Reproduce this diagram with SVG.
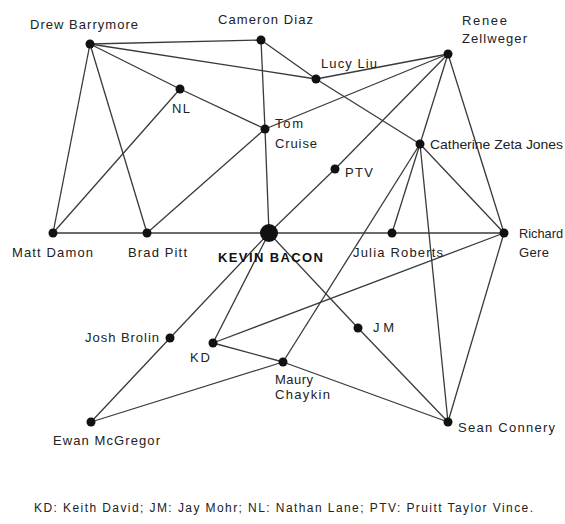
<svg xmlns="http://www.w3.org/2000/svg" width="565" height="524" viewBox="0 0 565 524">
<style>
.e{stroke:#3a3a3a;stroke-width:1.3;fill:none}
.d{fill:#111}
text{font-family:"Liberation Sans",Arial,sans-serif;font-size:13px;fill:#222}
.b{font-weight:bold;font-size:13px;fill:#111}
.c{font-size:12px}
</style>
<rect width="565" height="524" fill="#fff"/>
<g id="connectors">
<line class="e" x1="90" y1="44" x2="261" y2="40"/>
<line class="e" x1="90" y1="44" x2="316" y2="79"/>
<line class="e" x1="90" y1="44" x2="180" y2="89"/>
<line class="e" x1="180" y1="89" x2="265" y2="129"/>
<line class="e" x1="90" y1="44" x2="53" y2="233"/>
<line class="e" x1="90" y1="44" x2="147" y2="233"/>
<line class="e" x1="180" y1="89" x2="53" y2="233"/>
<line class="e" x1="261" y1="40" x2="265" y2="129"/>
<line class="e" x1="265" y1="129" x2="269" y2="233"/>
<line class="e" x1="261" y1="40" x2="316" y2="79"/>
<line class="e" x1="316" y1="79" x2="420" y2="144"/>
<line class="e" x1="316" y1="79" x2="448" y2="54"/>
<line class="e" x1="265" y1="129" x2="448" y2="54"/>
<line class="e" x1="265" y1="129" x2="147" y2="233"/>
<line class="e" x1="448" y1="54" x2="335" y2="169"/>
<line class="e" x1="335" y1="169" x2="269" y2="233"/>
<line class="e" x1="448" y1="54" x2="420" y2="144"/>
<line class="e" x1="448" y1="54" x2="504" y2="233"/>
<line class="e" x1="420" y1="144" x2="392" y2="233"/>
<line class="e" x1="420" y1="144" x2="504" y2="233"/>
<line class="e" x1="420" y1="144" x2="283" y2="362"/>
<line class="e" x1="420" y1="144" x2="448" y2="422"/>
<line class="e" x1="53" y1="233" x2="504" y2="233"/>
<line class="e" x1="504" y1="233" x2="213" y2="343"/>
<line class="e" x1="504" y1="233" x2="448" y2="422"/>
<line class="e" x1="269" y1="233" x2="358" y2="328"/>
<line class="e" x1="358" y1="328" x2="448" y2="422"/>
<line class="e" x1="269" y1="233" x2="170" y2="338"/>
<line class="e" x1="170" y1="338" x2="91" y2="422"/>
<line class="e" x1="269" y1="233" x2="213" y2="343"/>
<line class="e" x1="213" y1="343" x2="283" y2="362"/>
<line class="e" x1="283" y1="362" x2="448" y2="422"/>
<line class="e" x1="283" y1="362" x2="91" y2="422"/>
</g>
<g id="drew"><circle class="d" cx="90" cy="44" r="4.5"/><text x="30" y="29" textLength="108">Drew Barrymore</text></g>
<g id="cameron"><circle class="d" cx="261" cy="40" r="4.5"/><text x="218" y="24" textLength="95">Cameron Diaz</text></g>
<g id="lucy"><circle class="d" cx="316" cy="79" r="4.5"/><text x="321" y="68" textLength="56">Lucy Liu</text></g>
<g id="renee"><circle class="d" cx="448" cy="54" r="4.5"/><text x="462" y="25" textLength="45">Renee</text><text x="462" y="43" textLength="65">Zellweger</text></g>
<g id="nl"><circle class="d" cx="180" cy="89" r="4.5"/><text x="172" y="113" textLength="18">NL</text></g>
<g id="tom"><circle class="d" cx="265" cy="129" r="4.5"/><text x="275" y="128" textLength="28">Tom</text><text x="275" y="148" textLength="42">Cruise</text></g>
<g id="catherine"><circle class="d" cx="420" cy="144" r="4.5"/><text x="430" y="149" textLength="133" lengthAdjust="spacingAndGlyphs">Catherine Zeta Jones</text></g>
<g id="ptv"><circle class="d" cx="335" cy="169" r="4.5"/><text x="345" y="177" textLength="28">PTV</text></g>
<g id="matt"><circle class="d" cx="53" cy="233" r="4.5"/><text x="12" y="257" textLength="81">Matt Damon</text></g>
<g id="brad"><circle class="d" cx="147" cy="233" r="4.5"/><text x="128" y="257" textLength="59">Brad Pitt</text></g>
<g id="kevin"><circle class="d" cx="269" cy="233" r="9"/><text class="b" x="218" y="262" textLength="105">KEVIN BACON</text></g>
<g id="julia"><circle class="d" cx="392" cy="233" r="4.5"/><text x="353" y="257" textLength="90">Julia Roberts</text></g>
<g id="richard"><circle class="d" cx="504" cy="233" r="4.5"/><text x="519" y="238" textLength="44" lengthAdjust="spacingAndGlyphs">Richard</text><text x="519" y="257" textLength="30">Gere</text></g>
<g id="josh"><circle class="d" cx="170" cy="338" r="4.5"/><text x="85" y="342" textLength="74">Josh Brolin</text></g>
<g id="kd"><circle class="d" cx="213" cy="343" r="4.5"/><text x="190" y="362" textLength="20">KD</text></g>
<g id="jm"><circle class="d" cx="358" cy="328" r="4.5"/><text x="373" y="332" textLength="21">JM</text></g>
<g id="maury"><circle class="d" cx="283" cy="362" r="4.5"/><text x="275" y="384" textLength="38">Maury</text><text x="275" y="399" textLength="55">Chaykin</text></g>
<g id="ewan"><circle class="d" cx="91" cy="422" r="4.5"/><text x="53" y="445" textLength="107">Ewan McGregor</text></g>
<g id="sean"><circle class="d" cx="448" cy="422" r="4.5"/><text x="458" y="432" textLength="97">Sean Connery</text></g>
<text class="c" x="34" y="512" textLength="499">KD: Keith David; JM: Jay Mohr; NL: Nathan Lane; PTV: Pruitt Taylor Vince.</text>
</svg>
